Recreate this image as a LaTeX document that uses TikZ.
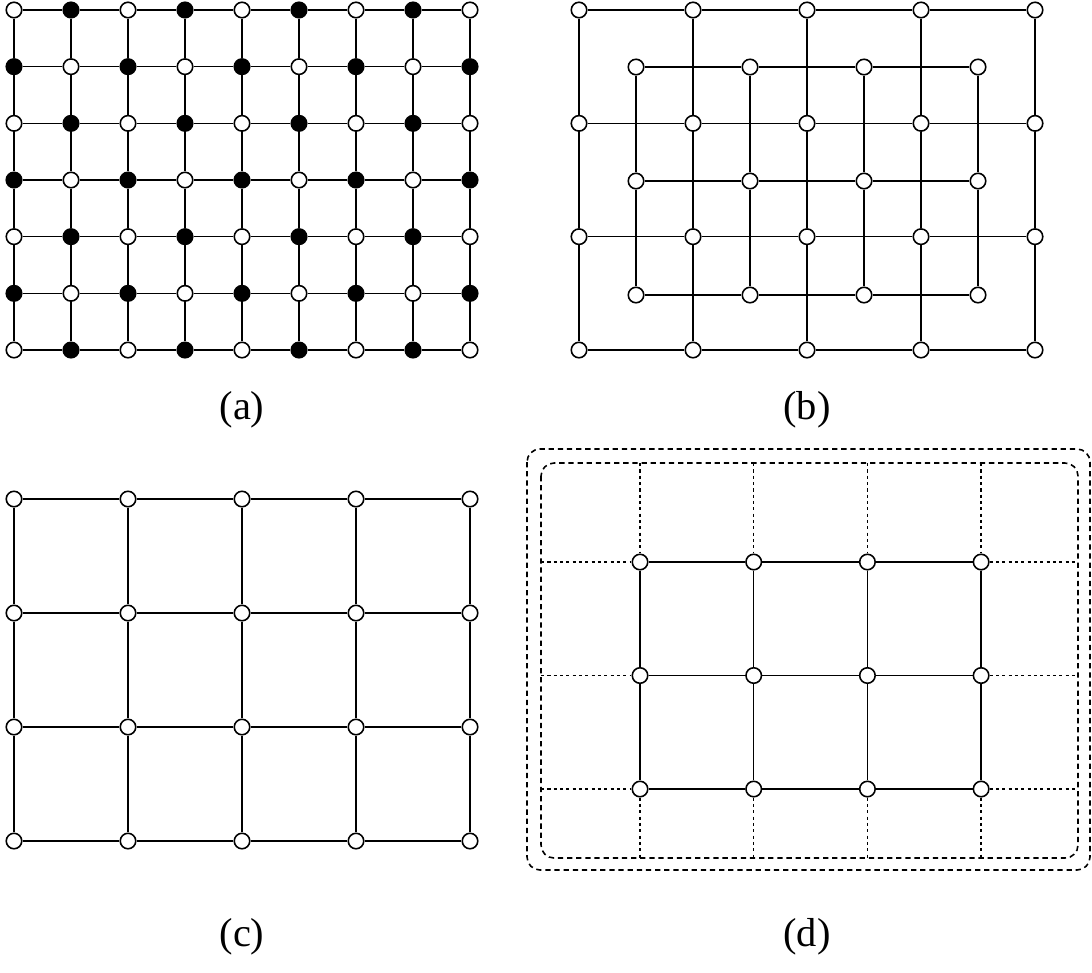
\documentclass[tikz,border=0pt]{standalone}
\usepackage{fontspec}
\setmainfont{Liberation Serif}
\begin{document}
\begin{tikzpicture}[x=0.01cm,y=-0.01cm,
  vtx/.style={circle,draw,fill=white,inner sep=0pt,minimum size=0.155cm,line width=0.45pt},
  bvtx/.style={vtx,fill=black},
  edge/.style={line width=0.42pt},
  dedge/.style={line width=0.38pt,dash pattern=on 0.9pt off 0.9pt},
  frame/.style={line width=0.45pt,dash pattern=on 1.5pt off 1.1pt,rounded corners=0.13cm},
  lab/.style={font=\fontsize{11.5}{13}\selectfont,inner sep=0pt}]
\useasboundingbox (0,0) rectangle (1092,972);

% ---------- (a) ----------
\foreach \i in {0,...,6}{
  \foreach \j in {0,...,8}{
    \pgfmathtruncatemacro\s{\i+\j}
    \ifodd\s
      \node[bvtx] (a-\i-\j) at ({14+57*\j},{10+340/6*\i}) {};
    \else
      \node[vtx] (a-\i-\j) at ({14+57*\j},{10+340/6*\i}) {};
    \fi
  }
}
\foreach \i in {0,...,6}{
  \foreach \j [count=\k from 1] in {0,...,7}{
    \draw[edge] (a-\i-\j) -- (a-\i-\k);
  }
}
\foreach \i [count=\k from 1] in {0,...,5}{
  \foreach \j in {0,...,8}{
    \draw[edge] (a-\i-\j) -- (a-\k-\j);
  }
}
\node[lab] (la) at (242,410) {(a)};

% ---------- (b) ----------
\foreach \i in {0,...,3}{
  \foreach \j in {0,...,4}{
    \node[vtx] (bo-\i-\j) at ({579+114*\j},{10+340/3*\i}) {};
  }
}
\foreach \i in {0,...,2}{
  \foreach \j in {0,...,3}{
    \node[vtx] (bi-\i-\j) at ({636+114*\j},{67+114*\i}) {};
  }
}
\foreach \i in {0,...,3}{
  \foreach \j [count=\k from 1] in {0,...,3}{
    \draw[edge] (bo-\i-\j) -- (bo-\i-\k);
  }
}
\foreach \i [count=\k from 1] in {0,...,2}{
  \foreach \j in {0,...,4}{
    \draw[edge] (bo-\i-\j) -- (bo-\k-\j);
  }
}
\foreach \i in {0,...,2}{
  \foreach \j [count=\k from 1] in {0,...,2}{
    \draw[edge] (bi-\i-\j) -- (bi-\i-\k);
  }
}
\foreach \i [count=\k from 1] in {0,...,1}{
  \foreach \j in {0,...,3}{
    \draw[edge] (bi-\i-\j) -- (bi-\k-\j);
  }
}
\node[lab] (lb) at (807,410) {(b)};

% ---------- (c) ----------
\foreach \i in {0,...,3}{
  \foreach \j in {0,...,4}{
    \node[vtx] (c-\i-\j) at ({14+114*\j},{499+114*\i}) {};
  }
}
\foreach \i in {0,...,3}{
  \foreach \j [count=\k from 1] in {0,...,3}{
    \draw[edge] (c-\i-\j) -- (c-\i-\k);
  }
}
\foreach \i [count=\k from 1] in {0,...,2}{
  \foreach \j in {0,...,4}{
    \draw[edge] (c-\i-\j) -- (c-\k-\j);
  }
}
\node[lab] (lc) at (242,937) {(c)};

% ---------- (d) ----------
\draw[frame] (527,449) rectangle (1090,870);
\draw[frame] (541,463) rectangle (1078,858);
\foreach \i in {0,...,2}{
  \foreach \j in {0,...,3}{
    \node[vtx] (d-\i-\j) at ({640+113.7*\j},{562+113.5*\i}) {};
  }
}
\foreach \j in {0,...,3}{
  \coordinate (dt-\j) at ({640+113.7*\j},463);
  \coordinate (db-\j) at ({640+113.7*\j},858);
  \draw[dedge] (dt-\j) -- (d-0-\j);
  \draw[dedge] (d-2-\j) -- (db-\j);
}
\foreach \i in {0,...,2}{
  \coordinate (dl-\i) at (541,{562+113.5*\i});
  \coordinate (dr-\i) at (1078,{562+113.5*\i});
  \draw[dedge] (dl-\i) -- (d-\i-0);
  \draw[dedge] (d-\i-3) -- (dr-\i);
}
\foreach \i in {0,...,2}{
  \foreach \j [count=\k from 1] in {0,...,2}{
    \draw[edge] (d-\i-\j) -- (d-\i-\k);
  }
}
\foreach \i [count=\k from 1] in {0,...,1}{
  \foreach \j in {0,...,3}{
    \draw[edge] (d-\i-\j) -- (d-\k-\j);
  }
}
\node[lab] (ld) at (807,937) {(d)};
\end{tikzpicture}
\end{document}
